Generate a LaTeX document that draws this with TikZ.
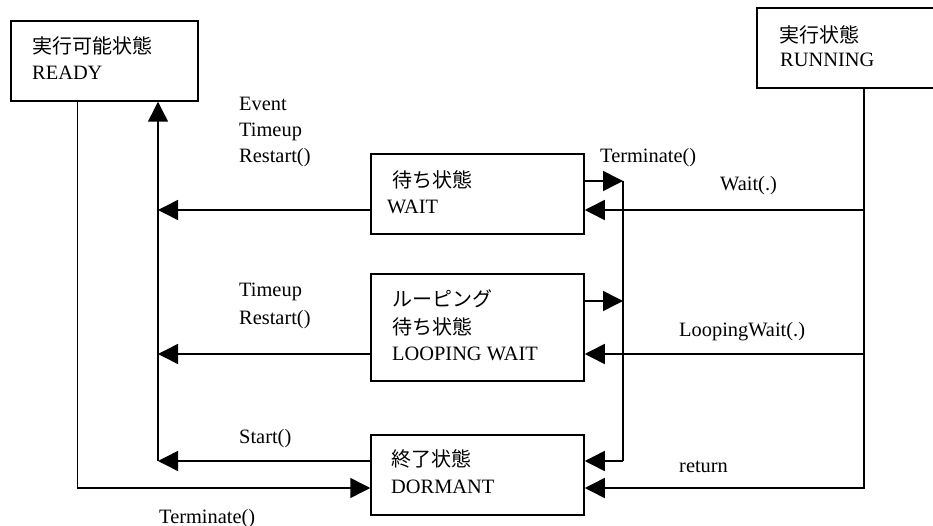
\documentclass[tikz,border=0pt]{standalone}
\usepackage{fontspec}
\setmainfont{Liberation Serif}
\newfontfamily\jpfont{Noto Sans CJK JP}
\usetikzlibrary{arrows.meta}
\begin{document}
\begin{tikzpicture}[x=1pt,y=-1pt,
  box/.style={draw,line width=1.5pt,rectangle,inner sep=0pt},
  jp/.style={anchor=west,inner sep=0pt,font=\jpfont\fontsize{20}{24}\selectfont},
  lt/.style={anchor=base west,inner sep=0pt,font=\fontsize{20.4}{24}\selectfont},
  conn/.style={line width=1.5pt},
  arr/.style={conn,-{Triangle[length=20pt,width=20pt]}}]
\useasboundingbox (0,0) rectangle (933,526);
% boxes
\node[box,minimum width=187pt,minimum height=80pt] (ready) at (104.5,61) {};
\node[box,minimum width=177pt,minimum height=80pt] (running) at (845.5,48) {};
\node[box,minimum width=213pt,minimum height=80pt] (wait) at (477.5,194) {};
\node[box,minimum width=213pt,minimum height=107pt] (loop) at (477.5,327.5) {};
\node[box,minimum width=213pt,minimum height=80pt] (dormant) at (477.5,475) {};
% box texts
\node[jp] (readyj) at (32,46) {実行可能状態};
\node[lt] (readye) at (32,80) {READY};
\node[jp] (runj) at (779,35) {実行状態};
\node[lt] (rune) at (780,67) {RUNNING};
\node[jp] (waitj) at (392,180) {待ち状態};
\node[lt] (waite) at (387,214) {WAIT};
\node[jp] (loopj1) at (392,299) {ルーピング};
\node[jp] (loopj2) at (392,327) {待ち状態};
\node[lt] (loope) at (392,360) {LOOPING WAIT};
\node[jp] (dormj) at (391,459) {終了状態};
\node[lt] (dorme) at (391,493) {DORMANT};
% labels
\node[lt] (l1) at (239,111) {Event};
\node[lt] (l2) at (239,137) {Timeup};
\node[lt] (l3) at (239,163) {Restart()};
\node[lt] (l4) at (600,163) {Terminate()};
\node[lt] (l5) at (720,191) {Wait(.)};
\node[lt] (l6) at (239,297) {Timeup};
\node[lt] (l7) at (239,324) {Restart()};
\node[lt] (l8) at (679,336) {LoopingWait(.)};
\node[lt] (l9) at (239,443) {Start()};
\node[lt] (l10) at (679,472) {return};
\node[lt] (l11) at (159,523) {Terminate()};
% junction coordinates
\coordinate (lspine) at (158,461);
\coordinate (lspineW) at (158,210);
\coordinate (lspineL) at (158,354);
\coordinate (tspineT) at (623,181);
\coordinate (tspineM) at (623,301);
\coordinate (tspineB) at (623,461);
\coordinate (rspineW) at (864,210);
\coordinate (rspineL) at (864,354);
% connectors
\draw[arr] ([xshift=67pt]ready.south west) |- (dormant.west |- 0,488);
\draw[arr] (lspine) -- (ready.south -| lspine);
\draw[arr] (wait.west |- lspineW) -- (lspineW);
\draw[arr] (loop.west |- lspineL) -- (lspineL);
\draw[arr] (dormant.west |- lspine) -- (lspine);
\draw[arr] (wait.east |- tspineT) -- (tspineT);
\draw[arr] (loop.east |- tspineM) -- (tspineM);
\draw[conn] (tspineT) -- (tspineB);
\draw[arr] (tspineB) -- (dormant.east |- tspineB);
\draw[arr] (running.south -| rspineW) |- (dormant.east |- 0,488);
\draw[arr] (rspineW) -- (wait.east |- rspineW);
\draw[arr] (rspineL) -- (loop.east |- rspineL);
\end{tikzpicture}
\end{document}
